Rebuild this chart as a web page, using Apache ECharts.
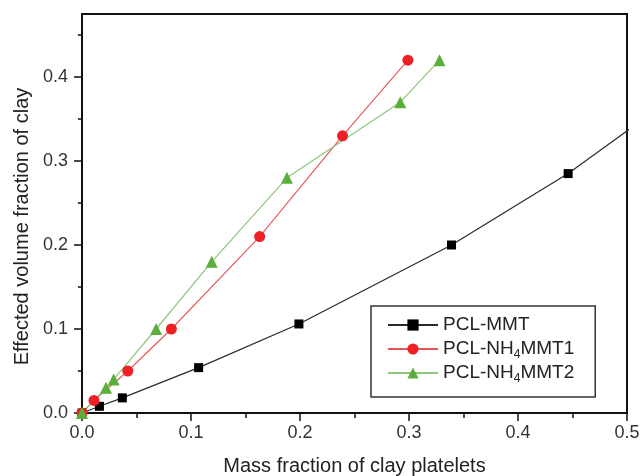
<!DOCTYPE html>
<html>
<head>
<meta charset="utf-8">
<script src="https://cdn.jsdelivr.net/npm/echarts@6/dist/echarts.min.js"></script>
<style>html,body{margin:0;padding:0;background:#fff;}#c{width:642px;height:476px;}</style>
</head>
<body>
<div id="c"></div>
<script>
var seriesNames = ['PCL-MMT', 'PCL-NH4MMT1', 'PCL-NH4MMT2'];
var pclMMT = [[0, 0], [0.016, 0.008], [0.037, 0.018], [0.107, 0.054], [0.199, 0.106], [0.339, 0.200], [0.446, 0.285], [0.55, 0.383]];
var pclNH4MMT1 = [[0, 0], [0.011, 0.015], [0.042, 0.050], [0.082, 0.100], [0.163, 0.210], [0.239, 0.330], [0.299, 0.420]];
var pclNH4MMT2 = [[0, 0], [0.022, 0.030], [0.029, 0.040], [0.068, 0.100], [0.119, 0.180], [0.188, 0.280], [0.292, 0.370], [0.328, 0.420]];
var yMajorTicks = [0, 0.1, 0.2, 0.3, 0.4];
var yMinorTicks = [0.05, 0.15, 0.25, 0.35, 0.45];

var FONT = 'Liberation Sans, Arial, sans-serif';
var chart = echarts.init(document.getElementById('c'));

function legendFmt(name) {
  var m = name.match(/^(PCL-NH)4(MMT\d)$/);
  if (m) return '{n|' + m[1] + '}{s|4}{n|' + m[2] + '}';
  return '{n|' + name + '}';
}

var option = {
  animation: false,
  backgroundColor: '#fff',
  grid: { left: 82, right: 15, top: 14, bottom: 63, outerBoundsMode: 'none', containLabel: false, show: true, borderColor: '#111', borderWidth: 2, backgroundColor: 'transparent' },
  legend: {
    orient: 'vertical',
    left: 371, top: 306,
    padding: [7, 21, 12, 16],
    borderColor: '#333', borderWidth: 1.5,
    itemWidth: 50, itemHeight: 14, itemGap: 0,
    data: seriesNames,
    formatter: legendFmt,
    textStyle: {
      color: '#222', fontFamily: FONT, fontSize: 19, lineHeight: 24,
      rich: {
        n: { fontSize: 19, lineHeight: 24, height: 24, fontFamily: FONT, color: '#222', verticalAlign: 'middle' },
        s: { fontSize: 12, lineHeight: 12, fontFamily: FONT, color: '#222', verticalAlign: 'bottom', padding: [0, 0, 0, 0] }
      }
    }
  },
  xAxis: {
    type: 'value', min: 0, max: 0.5, interval: 0.1,
    name: 'Mass fraction of clay platelets', nameLocation: 'middle', nameGap: 43,
    nameTextStyle: { fontSize: 20, color: '#222', fontFamily: FONT },
    axisLine: { show: true, lineStyle: { color: '#111', width: 2 } },
    axisTick: { show: true, inside: false, length: 8, lineStyle: { color: '#111', width: 1.5 } },
    minorTick: { show: true, splitNumber: 2, length: 5, lineStyle: { color: '#111', width: 1.5 } },
    splitLine: { show: false },
    axisLabel: { fontSize: 18, color: '#333', fontFamily: FONT, margin: 11, formatter: function (v) { return v.toFixed(1); } }
  },
  yAxis: [{
    type: 'value', min: 0, max: 0.475, interval: 0.1,
    name: 'Effected volume fraction of clay', nameLocation: 'middle', nameGap: 50,
    nameTextStyle: { fontSize: 20, color: '#222', fontFamily: FONT, padding: [0, 26, 0, 0] },
    axisLine: { show: true, lineStyle: { color: '#111', width: 2 } },
    axisTick: { show: true, inside: false, length: 8, customValues: yMajorTicks, lineStyle: { color: '#111', width: 1.5 } },
    splitLine: { show: false },
    axisLabel: { fontSize: 18, color: '#333', fontFamily: FONT, margin: 14, customValues: yMajorTicks, formatter: function (v) { return v.toFixed(1); } }
  }, {
    type: 'value', min: 0, max: 0.475, interval: 0.05, position: 'left',
    axisLine: { show: false },
    axisTick: { show: true, inside: false, length: 4, customValues: yMinorTicks, lineStyle: { color: '#111', width: 1.5 } },
    splitLine: { show: false },
    axisLabel: { show: false }
  }],
  series: [{
    name: seriesNames[0], type: 'line', data: pclMMT, clip: true,
    symbol: 'rect', symbolSize: 9, showAllSymbol: true,
    itemStyle: { color: '#000' },
    lineStyle: { color: '#2a2a2a', width: 1.2 }
  }, {
    name: seriesNames[1], type: 'line', data: pclNH4MMT1, clip: true,
    symbol: 'circle', symbolSize: 11, showAllSymbol: true,
    itemStyle: { color: '#ee1f25' },
    lineStyle: { color: '#e65555', width: 1.1 }
  }, {
    name: seriesNames[2], type: 'line', data: pclNH4MMT2, clip: true,
    symbol: 'triangle', symbolSize: 12, showAllSymbol: true,
    itemStyle: { color: '#5aae3c' },
    lineStyle: { color: '#8dc77a', width: 1.2 }
  }]
};
chart.setOption(option);
</script>
</body>
</html>
